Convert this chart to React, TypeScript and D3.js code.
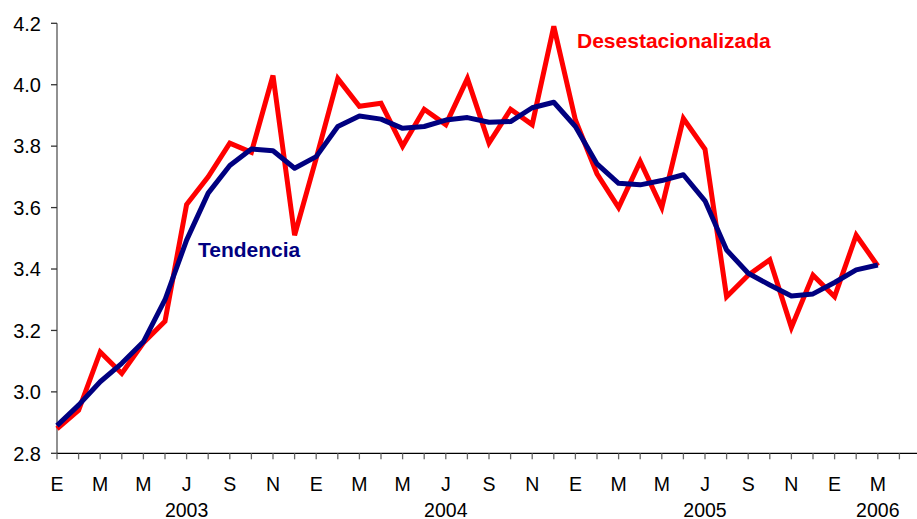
import React from "react";
import * as d3 from "d3";

const monthLabels = ["E", "M", "M", "J", "S", "N", "E", "M", "M", "J", "S", "N", "E", "M", "M", "J", "S", "N", "E", "M"];
const yearLabels = ["2003", "2004", "2005", "2006"];
const yearLabelIndex = [6, 18, 30, 38];
const yTicks = [2.8, 3.0, 3.2, 3.4, 3.6, 3.8, 4.0, 4.2];

// Jan 2003 .. Mar 2006 (39 months)
const desestacionalizada = [
  2.88, 2.94, 3.13, 3.06, 3.16, 3.23, 3.61, 3.70, 3.81, 3.78, 4.03, 3.51,
  3.76, 4.02, 3.93, 3.94, 3.80, 3.92, 3.87, 4.02, 3.81, 3.92, 3.87, 4.19,
  3.885, 3.71, 3.60, 3.75, 3.60, 3.89, 3.79, 3.31, 3.38, 3.43, 3.21, 3.38,
  3.31, 3.51, 3.41,
];
const tendencia = [
  2.89, 2.957, 3.033, 3.093, 3.163, 3.30, 3.494, 3.647, 3.737, 3.791, 3.785, 3.728,
  3.766, 3.864, 3.898, 3.888, 3.858, 3.864, 3.885, 3.893, 3.878, 3.88, 3.925, 3.943,
  3.864, 3.742, 3.679, 3.674, 3.688, 3.707, 3.622, 3.462, 3.386, 3.348, 3.312, 3.319,
  3.356, 3.397, 3.413,
];

const W = 917;
const H = 519;

export default function App() {
  const x = d3.scaleLinear().domain([0, 38]).range([57, 877.8]);
  const y = d3.scaleLinear().domain([2.8, 4.2]).range([453.3, 23.3]);
  const line = d3
    .line<number>()
    .x((_, i) => x(i))
    .y((d) => y(d));
  const monthTicks = d3.range(0, 41);
  const font = "Arial, 'Liberation Sans', Helvetica, sans-serif";

  return (
    <svg
      width={W}
      height={H}
      style={{ position: "absolute", left: 0, top: 0, background: "#fff" }}
      fontFamily={font}
    >
      <rect width={W} height={H} fill="#fff" />
      {/* y axis */}
      <line x1={x(0)} x2={x(0)} y1={y(4.2)} y2={y(2.8)} stroke="#555" strokeWidth={1.3} />
      {yTicks.map((t) => (
        <g key={t}>
          <line x1={x(0) - 6} x2={x(0)} y1={y(t)} y2={y(t)} stroke="#333" strokeWidth={1.3} />
          <text x={41} y={y(t)} dy="0.36em" textAnchor="end" fontSize={20} fill="#000">
            {t.toFixed(1)}
          </text>
        </g>
      ))}
      {/* x axis */}
      <line x1={x(0)} x2={W} y1={y(2.8)} y2={y(2.8)} stroke="#000" strokeWidth={1.3} />
      {monthTicks.map((i) => (
        <line key={i} x1={x(i)} x2={x(i)} y1={y(2.8)} y2={y(2.8) + 6} stroke="#666" strokeWidth={1.3} />
      ))}
      {monthLabels.map((m, k) => (
        <text key={k} x={x(k * 2)} y={490.7} textAnchor="middle" fontSize={19.5} fill="#000">
          {m}
        </text>
      ))}
      {yearLabels.map((yr, k) => (
        <text key={yr} x={x(yearLabelIndex[k])} y={516.5} textAnchor="middle" fontSize={19.5} fill="#000">
          {yr}
        </text>
      ))}
      {/* series */}
      <path d={line(desestacionalizada) || ""} fill="none" stroke="#ff0000" strokeWidth={5} strokeLinejoin="miter" />
      <path d={line(tendencia) || ""} fill="none" stroke="#000080" strokeWidth={5} strokeLinejoin="round" />
      <text x={577} y={48} fontSize={21} fontWeight="bold" fill="#ff0000">
        Desestacionalizada
      </text>
      <text x={198} y={257} fontSize={21} fontWeight="bold" fill="#000080">
        Tendencia
      </text>
    </svg>
  );
}
